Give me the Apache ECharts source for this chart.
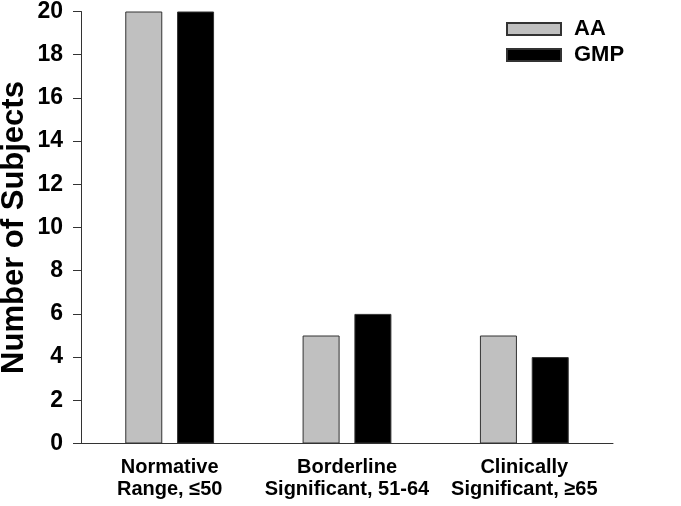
<!DOCTYPE html>
<html>
<head>
<meta charset="utf-8">
<script src="https://cdn.jsdelivr.net/npm/echarts@6/dist/echarts.min.js"></script>
<style>html,body{margin:0;padding:0;background:#fff;}#c{width:681px;height:506px;}</style>
</head>
<body>
<div id="c"></div>
<script>
const categories = ['Normative\nRange, \u226450', 'Borderline\nSignificant, 51-64', 'Clinically\nSignificant, \u226565'];
const seriesNames = ['AA', 'GMP'];
const aaValues = [20, 5, 5];
const gmpValues = [20, 6, 4];
const yTicks = { min: 0, max: 20, interval: 2 };

const chart = echarts.init(document.getElementById('c'), null, { renderer: 'canvas' });
const font = '"Liberation Sans", Arial, sans-serif';
chart.setOption({
  backgroundColor: '#fff',
  animation: false,
  grid: { left: 81, top: 11.5, width: 532, bottom: 62.5, containLabel: false, outerBoundsMode: 'none' },
  legend: {
    orient: 'vertical', left: 506, top: 18, padding: 0,
    itemWidth: 54, itemHeight: 12, itemGap: 4, icon: 'rect',
    textStyle: { fontFamily: font, fontWeight: 'bold', fontSize: 22, color: '#000', padding: [0, 0, 0, 8] },
    data: seriesNames
  },
  xAxis: {
    type: 'category', data: categories,
    axisLine: { lineStyle: { color: '#333', width: 1 } },
    axisTick: { show: false },
    axisLabel: { interval: 0, fontFamily: font, fontWeight: 'bold', fontSize: 20, color: '#000', lineHeight: 22, margin: 13 }
  },
  yAxis: {
    type: 'value', min: yTicks.min, max: yTicks.max, interval: yTicks.interval,
    name: 'Number of Subjects', nameLocation: 'middle', nameGap: 51, nameMoveOverlap: false,
    nameTextStyle: { fontFamily: font, fontWeight: 'bold', fontSize: 31, color: '#000' },
    axisLine: { show: true, lineStyle: { color: '#333', width: 1 } },
    axisTick: { show: true, inside: false, length: 8, lineStyle: { color: '#333' } },
    axisLabel: { fontFamily: font, fontWeight: 'bold', fontSize: 23, color: '#000', margin: 18 },
    splitLine: { show: false }
  },
  series: [
    { name: seriesNames[0], type: 'bar', data: aaValues, barWidth: 37, barGap: '40%',
      itemStyle: { color: '#c0c0c0', borderColor: '#333', borderWidth: 1 } },
    { name: seriesNames[1], type: 'bar', data: gmpValues, barWidth: 37,
      itemStyle: { color: '#000', borderColor: '#333', borderWidth: 1 } }
  ]
});
</script>
</body>
</html>
